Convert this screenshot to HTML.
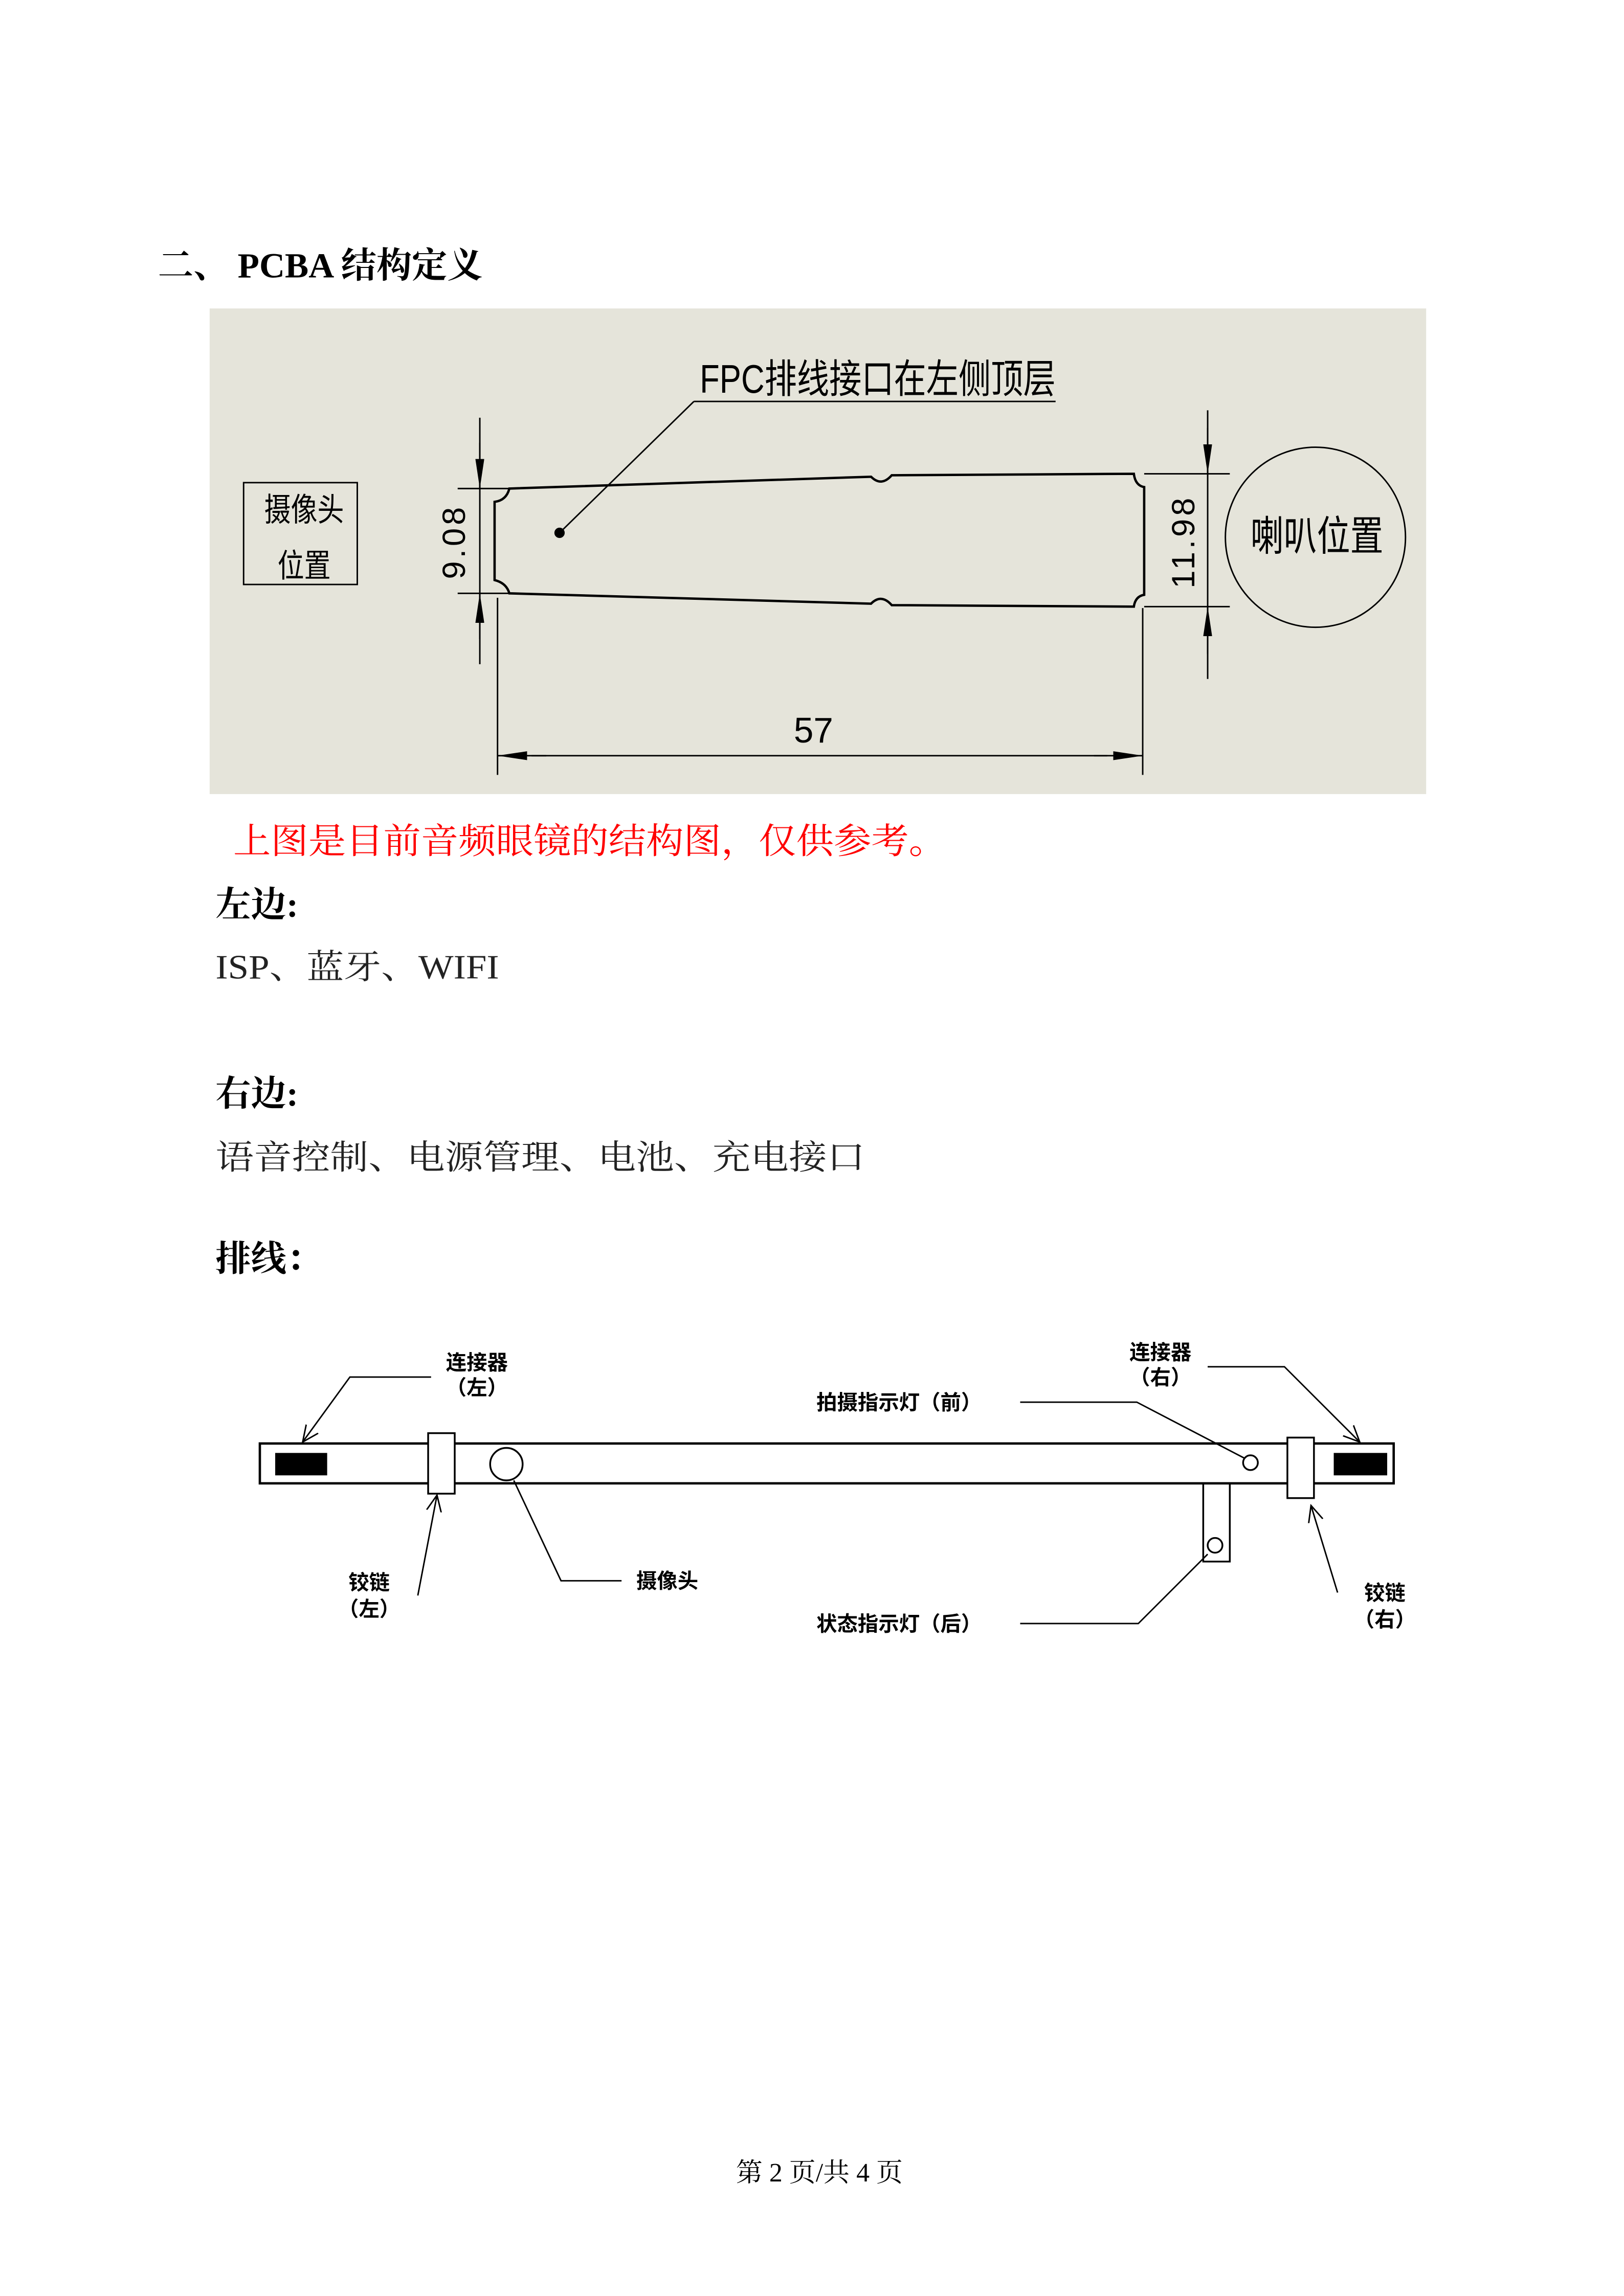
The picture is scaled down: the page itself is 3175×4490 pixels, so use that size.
<!DOCTYPE html>
<html><head><meta charset="utf-8"><style>
html,body{margin:0;padding:0;background:#fff}
svg{display:block}
.s{font-family:"Liberation Serif","Noto Serif CJK SC",serif}
.h{font-family:"Liberation Sans","Noto Sans CJK SC",sans-serif}
</style></head><body>
<svg width="3175" height="4490" viewBox="0 0 1100 1555.6" xmlns="http://www.w3.org/2000/svg">
<defs>
<marker id="oa" viewBox="0 0 12 12" refX="11" refY="6" markerWidth="12" markerHeight="12" markerUnits="userSpaceOnUse" orient="auto">
<path d="M0,1 L11,6 L0,11" fill="none" stroke="#000" stroke-width="1"/></marker>
<marker id="fa" viewBox="0 0 20 8" refX="20" refY="4" markerWidth="20" markerHeight="6" markerUnits="userSpaceOnUse" orient="auto" preserveAspectRatio="none">
<path d="M0,0 L20,4 L0,8 Z" fill="#000"/></marker>
</defs>
<rect width="1100" height="1556" fill="#fff"/>
<text x="107" y="188" class="s" font-size="24" font-weight="bold" fill="#000">二、 PCBA 结构定义</text>

<rect x="142" y="209" width="824" height="329" fill="#e5e4da"/>
<g fill="none" stroke="#000" stroke-width="1">
<text x="474" y="266" class="h" font-size="27" fill="#000" stroke="none" textLength="241" lengthAdjust="spacingAndGlyphs">FPC排线接口在左侧顶层</text>
<line x1="470" y1="272" x2="715" y2="272"/>
<line x1="470" y1="272" x2="379" y2="361"/>
<circle cx="379" cy="361" r="3" fill="#000"/>
<path d="M345,331 L590,323 Q597,330 604,322 L768,321 Q769,329 775,330 L775,403 Q769,404 768,411 L604,410 Q597,402 590,409 L345,402 Q343,395 335,393 L335,340 Q343,339 345,331 Z" stroke-width="1.6"/>
<rect x="165" y="327" width="77" height="69"/>
<circle cx="891" cy="364" r="61"/>
<line x1="310" y1="331" x2="345" y2="331"/>
<line x1="310" y1="402" x2="345" y2="402"/>
<line x1="325" y1="283" x2="325" y2="450"/>
<line x1="325" y1="300" x2="325" y2="331" marker-end="url(#fa)"/>
<line x1="325" y1="433" x2="325" y2="402" marker-end="url(#fa)"/>
<line x1="775" y1="321" x2="833" y2="321"/>
<line x1="775" y1="411" x2="833" y2="411"/>
<line x1="818" y1="278" x2="818" y2="460"/>
<line x1="818" y1="290" x2="818" y2="321" marker-end="url(#fa)"/>
<line x1="818" y1="443" x2="818" y2="411" marker-end="url(#fa)"/>
<line x1="337" y1="405" x2="337" y2="525"/>
<line x1="774" y1="412" x2="774" y2="525"/>
<line x1="370" y1="512" x2="337" y2="512" marker-end="url(#fa)"/>
<line x1="741" y1="512" x2="774" y2="512" marker-end="url(#fa)"/>
<line x1="360" y1="512" x2="750" y2="512"/>
</g>
<g class="h" fill="#000" text-anchor="middle">
<text x="551" y="503" font-size="24">57</text>
<text transform="translate(315,367) rotate(-90)" font-size="22" letter-spacing="2">9.08</text>
<text transform="translate(809,367) rotate(-90)" font-size="22" letter-spacing="2">11.98</text>
</g>
<g class="h" fill="#000">
<text x="179" y="353" font-size="22" textLength="54" lengthAdjust="spacingAndGlyphs">摄像头</text>
<text x="188" y="391" font-size="22" textLength="36" lengthAdjust="spacingAndGlyphs">位置</text>
<text x="847" y="373" font-size="28" textLength="90" lengthAdjust="spacingAndGlyphs">喇叭位置</text>
</g>

<g class="s">
<text x="158" y="578" font-size="24" fill="#f00" textLength="483" lengthAdjust="spacingAndGlyphs">上图是目前音频眼镜的结构图，仅供参考。</text>
<text x="146" y="621" font-size="24" font-weight="bold">左边:</text>
<text x="146" y="663" font-size="23" fill="#222" textLength="192" lengthAdjust="spacingAndGlyphs">ISP、蓝牙、WIFI</text>
<text x="146" y="749" font-size="24" font-weight="bold">右边:</text>
<text x="146" y="792" font-size="23" fill="#222" textLength="440" lengthAdjust="spacingAndGlyphs">语音控制、电源管理、电池、充电接口</text>
<text x="146" y="861" font-size="24" font-weight="bold">排线：</text>
</g>

<g fill="none" stroke="#000" stroke-width="1.2">
<rect x="176" y="978" width="768" height="27" stroke-width="1.6"/>
<rect x="187" y="985" width="34" height="14" fill="#000"/>
<rect x="904" y="985" width="35" height="14" fill="#000"/>
<rect x="290" y="971" width="18" height="41" fill="#fff"/>
<rect x="872" y="974" width="18" height="41" fill="#fff"/>
<circle cx="343" cy="992" r="11"/>
<circle cx="847" cy="991" r="5"/>
<rect x="815" y="1005" width="18" height="53"/>
<circle cx="823" cy="1047" r="5"/>
</g>
<g fill="none" stroke="#000" stroke-width="1">
<polyline points="292,933 237,933 205,977" marker-end="url(#oa)"/>
<polyline points="818,926 870,926 921,977" marker-end="url(#oa)"/>
<polyline points="691,950 770,950 843,988"/>
<polyline points="421,1071 380,1071 348,1003"/>
<polyline points="691,1100 771,1100 818,1053"/>
<line x1="283" y1="1081" x2="296" y2="1013" marker-end="url(#oa)"/>
<line x1="906" y1="1079" x2="888" y2="1020" marker-end="url(#oa)"/>
</g>
<g class="h" font-size="14" font-weight="bold" fill="#000">
<text x="323" y="928" text-anchor="middle">连接器</text>
<text x="323" y="945" text-anchor="middle">（左）</text>
<text x="786" y="921" text-anchor="middle">连接器</text>
<text x="786" y="938" text-anchor="middle">（右）</text>
<text x="553" y="955">拍摄指示灯（前）</text>
<text x="431" y="1076">摄像头</text>
<text x="553" y="1105">状态指示灯（后）</text>
<text x="250" y="1077" text-anchor="middle">铰链</text>
<text x="250" y="1095" text-anchor="middle">（左）</text>
<text x="938" y="1084" text-anchor="middle">铰链</text>
<text x="938" y="1102" text-anchor="middle">（右）</text>
</g>
<text x="555" y="1478" class="s" font-size="18" text-anchor="middle" fill="#000">第 2 页/共 4 页</text>
</svg>
</body></html>
